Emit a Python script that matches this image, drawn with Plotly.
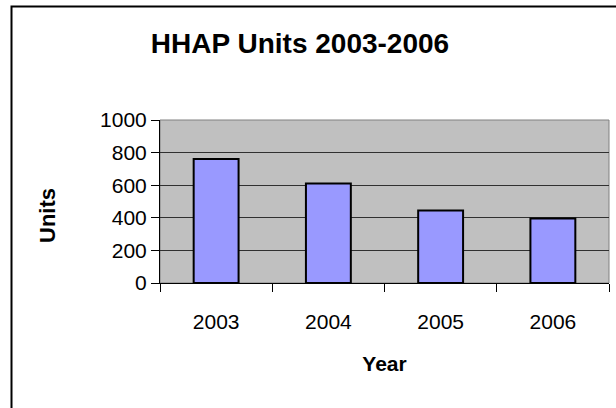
import plotly.graph_objects as go

# HHAP units per year
years = ["2003", "2004", "2005", "2006"]
units = [760, 610, 445, 395]
y_ticks = [0, 200, 400, 600, 800, 1000]

fig = go.Figure(
    go.Bar(
        x=years,
        y=units,
        width=0.4,
        marker=dict(color="#9999FF", line=dict(color="black", width=2)),
    )
)

font = "Liberation Sans, Arial, sans-serif"

fig.update_layout(
    width=616,
    height=408,
    margin=dict(l=160, r=7, t=120, b=125),
    paper_bgcolor="white",
    plot_bgcolor="#C0C0C0",
    showlegend=False,
    font=dict(family=font, color="black", size=21),
    title=dict(
        text="<b>HHAP Units 2003-2006</b>",
        x=300 / 616,
        xanchor="center",
        y=1 - 43 / 408,
        yanchor="middle",
        font=dict(size=28),
    ),
)

fig.update_xaxes(
    type="category",
    tickson="boundaries",
    ticks="outside",
    ticklen=8,
    tickcolor="black",
    showline=True,
    linecolor="black",
    linewidth=1,
    showgrid=False,
    tickfont=dict(size=21),
    ticklabelstandoff=20,
    title=dict(text="<b>Year</b>", font=dict(size=21), standoff=24),
)

fig.update_yaxes(
    range=[0, 1000],
    tickvals=y_ticks,
    ticks="outside",
    ticklen=8,
    tickcolor="black",
    showline=True,
    linecolor="black",
    linewidth=1,
    showgrid=True,
    gridcolor="#303030",
    gridwidth=1,
    zeroline=False,
    tickfont=dict(size=21),
)

# y-axis title, set slightly below the middle of the plotting area
fig.add_annotation(
    text="<b>Units</b>", textangle=-90, showarrow=False,
    xref="paper", yref="paper",
    x=(47 - 160) / 449, y=(283 - 215) / 163,
    xanchor="center", yanchor="middle",
    font=dict(size=22),
)

# gray frame around the plotting area (right and top edges)
fig.add_shape(
    type="rect", xref="paper", yref="paper", x0=0, x1=1, y0=0, y1=1,
    line=dict(color="#808080", width=1), layer="below",
)

# outer chart border, running past the right and bottom edges of the page
fig.add_shape(
    type="rect", xref="paper", yref="paper",
    x0=(11.5 - 160) / 449, x1=(630 - 160) / 449,
    y0=(283 - 420) / 163, y1=(283 - 6.5) / 163,
    line=dict(color="black", width=2),
)

fig.write_html("out.html")
